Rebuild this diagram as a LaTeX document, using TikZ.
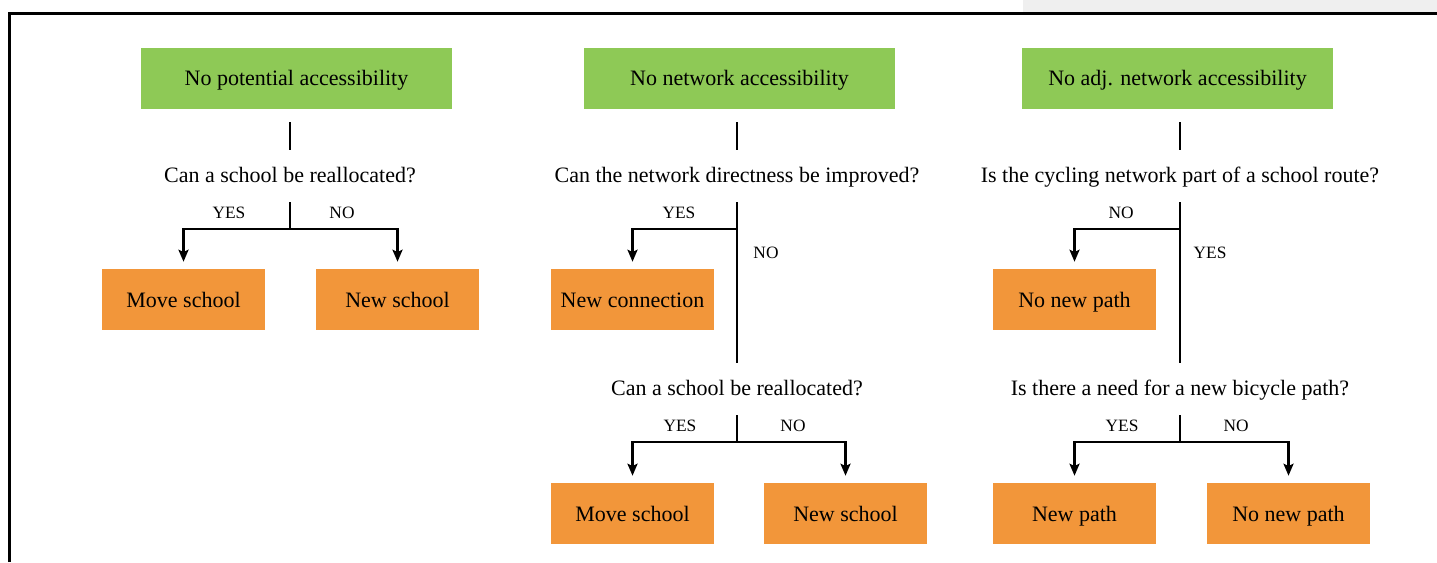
\documentclass[tikz,border=0pt]{standalone}
\usepackage{fontspec}
\setmainfont{Liberation Serif}
\usetikzlibrary{arrows.meta}
\definecolor{boxgreen}{RGB}{142,201,86}
\definecolor{boxorange}{RGB}{242,150,58}
\definecolor{framegray}{RGB}{239,239,239}
\tikzset{
  greenbox/.style={fill=boxgreen, minimum width=233.25pt, minimum height=45.75pt, inner sep=0pt, text height=11pt, text depth=1.25pt},
  orangebox/.style={fill=boxorange, minimum width=122.25pt, minimum height=45.75pt, inner sep=0pt, text height=12pt, text depth=0.75pt},
  question/.style={anchor=base, inner sep=0pt, text height=24pt, text depth=15pt},
  answer/.style={font=\fontsize{13}{15}\selectfont, inner sep=0pt},
  link/.style={line width=2.2pt},
  pointer/.style={line width=2.2pt, -{Stealth[length=9pt,width=7.5pt,inset=1.8pt]}, shorten >=5.25pt}
}
\begin{document}
\begin{tikzpicture}[x=0.75pt,y=-0.75pt,font=\fontsize{16.5}{19.5}\selectfont]
\useasboundingbox (0,0) rectangle (1437,562);

% --- Frame ---
\fill[framegray] (1023,0) rectangle (1437,12);
\draw[line width=2.2pt] (9.5,562) -- (9.5,13.5) -- (1437,13.5);

% --- Top row (green) ---
\node[greenbox] (g1) at (296.5,78.5) {No potential accessibility};
\node[greenbox] (g2) at (739.5,78.5) {No network accessibility};
\node[greenbox] (g3) at (1177.5,78.5) {No adj. network accessibility};

% --- Questions ---
\node[question] (q1) at (290,182) {Can a school be reallocated?};
\node[question] (q2) at (737,182) {Can the network directness be improved?};
\node[question] (q3) at (1180,182) {Is the cycling network part of a school route?};
\node[question] (q4) at (737,395) {Can a school be reallocated?};
\node[question] (q5) at (1180,395) {Is there a need for a new bicycle path?};

% --- Outcomes (orange) ---
\node[orangebox] (o1) at (183.5,299.5) {Move school};
\node[orangebox] (o2) at (397.5,299.5) {New school};
\node[orangebox] (o3) at (632.5,299.5) {New connection};
\node[orangebox] (o4) at (1074.5,299.5) {No new path};
\node[orangebox] (o5) at (632.5,513.5) {Move school};
\node[orangebox] (o6) at (845.5,513.5) {New school};
\node[orangebox] (o7) at (1074.5,513.5) {New path};
\node[orangebox] (o8) at (1288.5,513.5) {No new path};

% --- Answer labels ---
\node[answer] (a1) at (229,213) {YES};
\node[answer] (a2) at (342,213) {NO};
\node[answer] (a3) at (679,213) {YES};
\node[answer] (a4) at (766,253) {NO};
\node[answer] (a5) at (1121,213) {NO};
\node[answer] (a6) at (1210,253) {YES};
\node[answer] (a7) at (680,426) {YES};
\node[answer] (a8) at (793,426) {NO};
\node[answer] (a9) at (1122,426) {YES};
\node[answer] (a10) at (1236,426) {NO};

% --- Junctions ---
\coordinate (j1) at (290,229);
\coordinate (j2) at (737,229);
\coordinate (j3) at (1180,229);
\coordinate (j4) at (737,442);
\coordinate (j5) at (1180,442);

% --- Stems from the green boxes ---
\draw[link, shorten <=9.75pt] (q1.north |- g1.south) -- (q1.north);
\draw[link, shorten <=9.75pt] (q2.north |- g2.south) -- (q2.north);
\draw[link, shorten <=9.75pt] (q3.north |- g3.south) -- (q3.north);

% --- Left column ---
\draw[link] (q1.south) -- (j1);
\draw[pointer] (j1) -| (o1.north);
\draw[pointer] (j1) -| (o2.north);

% --- Middle column ---
\draw[link] (q2.south) -- (q4.north);
\draw[pointer] (j2) -| (o3.north);
\draw[link] (q4.south) -- (j4);
\draw[pointer] (j4) -| (o5.north);
\draw[pointer] (j4) -| (o6.north);

% --- Right column ---
\draw[link] (q3.south) -- (q5.north);
\draw[pointer] (j3) -| (o4.north);
\draw[link] (q5.south) -- (j5);
\draw[pointer] (j5) -| (o7.north);
\draw[pointer] (j5) -| (o8.north);

\end{tikzpicture}
\end{document}
